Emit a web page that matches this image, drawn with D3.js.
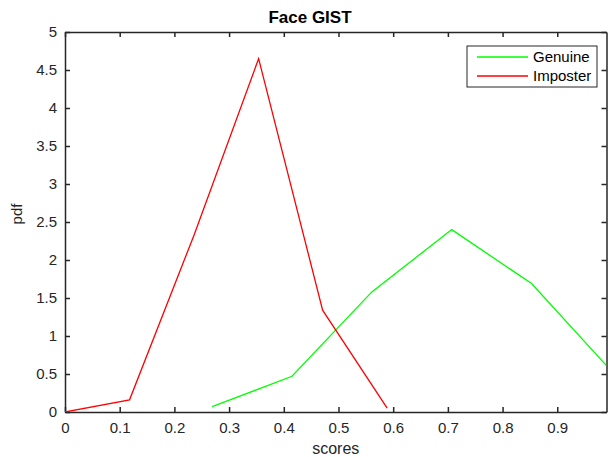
<!DOCTYPE html>
<html>
<head>
<meta charset="utf-8">
<script src="https://cdn.jsdelivr.net/npm/d3@7"></script>
<style>
  body { margin: 0; background: #fff; }
  svg { font-family: "Liberation Sans", Arial, sans-serif; }
</style>
</head>
<body>
<div id="chart"></div>
<script>
// values
var genuineX = [0.269, 0.415, 0.561, 0.707, 0.853, 0.99];
var genuineY = [0.07, 0.47, 1.58, 2.40, 1.69, 0.61];
var imposterX = [0, 0.118, 0.236, 0.354, 0.471, 0.589];
var imposterY = [0, 0.16, 2.33, 4.65, 1.34, 0.05];
var xTicks = [0, 0.1, 0.2, 0.3, 0.4, 0.5, 0.6, 0.7, 0.8, 0.9];
var yTicks = [0, 0.5, 1, 1.5, 2, 2.5, 3, 3.5, 4, 4.5, 5];
var seriesNames = ["Genuine", "Imposter"];
var seriesColors = ["#00ff00", "#ff0000"];

var W = 608, H = 457;
var margin = {top: 32, right: 1, bottom: 45, left: 65};

var svg = d3.select("#chart").append("svg")
    .attr("width", W)
    .attr("height", H);

var x = d3.scaleLinear().domain([0, 0.99]).range([margin.left, W - margin.right - 0.5]);
var y = d3.scaleLinear().domain([0, 5]).range([H - margin.bottom, margin.top]);

svg.append("defs").append("clipPath").attr("id", "clip")
  .append("rect")
    .attr("x", x(0)).attr("y", y(5))
    .attr("width", x(0.99) - x(0)).attr("height", y(0) - y(5));

var axisColor = "#262626";

// bottom axis (ticks pointing in)
var gx = svg.append("g")
    .attr("transform", "translate(0," + y(0) + ")")
    .call(d3.axisBottom(x).tickValues(xTicks).tickSizeInner(-5).tickSizeOuter(0)
      .tickFormat(function(d){ return d3.format("")(d); }));
gx.selectAll("text").attr("dy", "1.2em");

// left axis
var gy = svg.append("g")
    .attr("transform", "translate(" + x(0) + ",0)")
    .call(d3.axisLeft(y).tickValues(yTicks).tickSizeInner(-5).tickSizeOuter(0)
      .tickFormat(function(d){ return d3.format("")(d); }));
gy.selectAll("text").attr("x", -8);

// top and right mirror ticks
svg.append("g")
    .attr("transform", "translate(0," + y(5) + ")")
    .call(d3.axisTop(x).tickValues(xTicks).tickSizeInner(-5).tickSizeOuter(0).tickFormat(""));
svg.append("g")
    .attr("transform", "translate(" + x(0.99) + ",0)")
    .call(d3.axisRight(y).tickValues(yTicks).tickSizeInner(-5).tickSizeOuter(0).tickFormat(""));

svg.selectAll(".domain").attr("stroke", axisColor).attr("stroke-width", 1.5);
svg.selectAll(".tick line").attr("stroke", axisColor).attr("stroke-width", 1.5);
svg.selectAll(".tick text").attr("fill", "#262626").style("font-size", "15px");

// lines
var line = d3.line()
    .x(function(d){ return x(d[0]); })
    .y(function(d){ return y(d[1]); });

var series = [
  d3.zip(genuineX, genuineY),
  d3.zip(imposterX, imposterY)
];

svg.append("g").attr("clip-path", "url(#clip)")
  .selectAll("path.series")
  .data(series)
  .enter().append("path")
    .attr("class", "series")
    .attr("d", line)
    .attr("fill", "none")
    .attr("stroke", function(d, i){ return seriesColors[i]; })
    .attr("stroke-width", 1.3);

// title and labels
svg.append("text")
    .attr("x", 310).attr("y", 23)
    .attr("text-anchor", "middle")
    .style("font-size", "17px").style("font-weight", "bold")
    .attr("fill", "#000")
    .text("Face GIST");

svg.append("text")
    .attr("x", (x(0) + x(0.99)) / 2).attr("y", 454)
    .attr("text-anchor", "middle")
    .style("font-size", "16px")
    .attr("fill", "#262626")
    .text("scores");

svg.append("text")
    .attr("transform", "translate(22," + 214 + ") rotate(-90)")
    .attr("text-anchor", "middle")
    .style("font-size", "15px")
    .attr("fill", "#262626")
    .text("pdf");

// legend
var legend = svg.append("g").attr("transform", "translate(467,46)");
legend.append("rect")
    .attr("width", 130).attr("height", 41)
    .attr("fill", "#fff").attr("stroke", "#262626").attr("stroke-width", 1);
legend.selectAll("path.key")
  .data(seriesNames)
  .enter().append("path")
    .attr("class", "key")
    .attr("d", function(d, i){ return "M10," + (11 + i * 19) + "H61"; })
    .attr("fill", "none")
    .attr("stroke", function(d, i){ return seriesColors[i]; })
    .attr("stroke-width", 1.3);
legend.selectAll("text.key")
  .data(seriesNames)
  .enter().append("text")
    .attr("class", "key")
    .attr("x", 66).attr("y", function(d, i){ return 11 + i * 19; })
    .attr("dy", "0.35em")
    .style("font-size", "15px")
    .attr("fill", "#000")
    .text(function(d){ return d; });
</script>
</body>
</html>
